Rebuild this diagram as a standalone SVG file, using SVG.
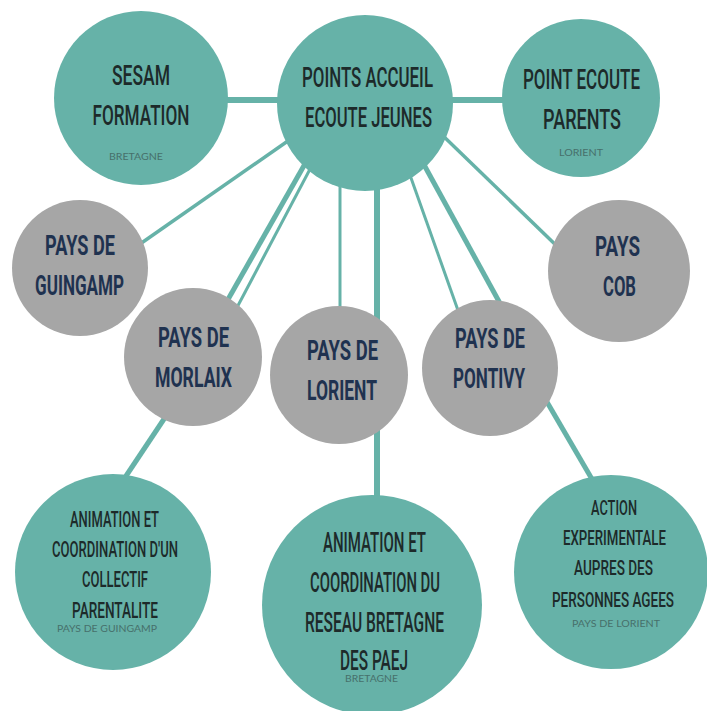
<svg xmlns="http://www.w3.org/2000/svg" width="707" height="711" viewBox="0 0 707 711">
<style>
.teal{fill:#66b2a8}
.gray{fill:#a6a6a6}
.ln{stroke:#66b2a8;fill:none;stroke-linecap:butt}
.t1{font-family:Roboto,"Liberation Sans",sans-serif;font-weight:500;fill:#1d2a2a;text-anchor:middle}
.t2{font-family:Roboto,"Liberation Sans",sans-serif;font-weight:700;fill:#1f3250;text-anchor:middle}
.sm{font-family:Lato,"Open Sans",sans-serif;font-size:9px;fill:#46706b;text-anchor:middle}
</style>
<rect width="707" height="711" fill="#ffffff"/>
<g id="connectors">
<line class="ln" x1="200" y1="100" x2="300" y2="100" stroke-width="6"/>
<line class="ln" x1="430" y1="100" x2="530" y2="100" stroke-width="6"/>
<line class="ln" x1="295" y1="136" x2="130" y2="251" stroke-width="3.5"/>
<line class="ln" x1="314" y1="148" x2="222" y2="310" stroke-width="5"/>
<line class="ln" x1="318" y1="154" x2="233" y2="315" stroke-width="3"/>
<line class="ln" x1="340" y1="170" x2="340" y2="330" stroke-width="3"/>
<line class="ln" x1="377" y1="170" x2="377" y2="520" stroke-width="6"/>
<line class="ln" x1="405" y1="161" x2="460" y2="316" stroke-width="3"/>
<line class="ln" x1="417" y1="152" x2="502" y2="307" stroke-width="5"/>
<line class="ln" x1="437" y1="130" x2="563" y2="252" stroke-width="3.5"/>
<line class="ln" x1="180" y1="395" x2="120" y2="485" stroke-width="5"/>
<line class="ln" x1="540" y1="390" x2="596" y2="486" stroke-width="5"/>
</g>
<g id="sesam">
<circle class="teal" cx="141" cy="98" r="87"/>
<text class="t1" x="141" y="85" font-size="28" textLength="58" lengthAdjust="spacingAndGlyphs">SESAM</text>
<text class="t1" x="141" y="125" font-size="28" textLength="97" lengthAdjust="spacingAndGlyphs">FORMATION</text>
<text class="sm" x="136" y="160" textLength="54" lengthAdjust="spacingAndGlyphs">BRETAGNE</text>
</g>
<g id="paej">
<circle class="teal" cx="365" cy="103" r="88"/>
<text class="t1" x="367.5" y="87" font-size="27" textLength="131" lengthAdjust="spacingAndGlyphs">POINTS ACCUEIL</text>
<text class="t1" x="368.5" y="127" font-size="27" textLength="127" lengthAdjust="spacingAndGlyphs">ECOUTE JEUNES</text>
</g>
<g id="parents">
<circle class="teal" cx="581" cy="98" r="79"/>
<text class="t1" x="581.5" y="89" font-size="27" textLength="117" lengthAdjust="spacingAndGlyphs">POINT ECOUTE</text>
<text class="t1" x="582" y="129" font-size="27" textLength="78" lengthAdjust="spacingAndGlyphs">PARENTS</text>
<text class="sm" x="581" y="156" textLength="44" lengthAdjust="spacingAndGlyphs">LORIENT</text>
</g>
<g id="guingamp">
<circle class="gray" cx="80" cy="268" r="68"/>
<text class="t2" x="80" y="255" font-size="28" textLength="70" lengthAdjust="spacingAndGlyphs">PAYS DE</text>
<text class="t2" x="79.5" y="295" font-size="28" textLength="89" lengthAdjust="spacingAndGlyphs">GUINGAMP</text>
</g>
<g id="morlaix">
<circle class="gray" cx="193" cy="357" r="69"/>
<text class="t2" x="193.5" y="347" font-size="28" textLength="71" lengthAdjust="spacingAndGlyphs">PAYS DE</text>
<text class="t2" x="193.5" y="387" font-size="28" textLength="77" lengthAdjust="spacingAndGlyphs">MORLAIX</text>
</g>
<g id="lorient">
<circle class="gray" cx="339" cy="375" r="69"/>
<text class="t2" x="342.5" y="360" font-size="28" textLength="71" lengthAdjust="spacingAndGlyphs">PAYS DE</text>
<text class="t2" x="342" y="400" font-size="28" textLength="70" lengthAdjust="spacingAndGlyphs">LORIENT</text>
</g>
<g id="pontivy">
<circle class="gray" cx="490" cy="368" r="68"/>
<text class="t2" x="490" y="348" font-size="28" textLength="70" lengthAdjust="spacingAndGlyphs">PAYS DE</text>
<text class="t2" x="489" y="388" font-size="28" textLength="72" lengthAdjust="spacingAndGlyphs">PONTIVY</text>
</g>
<g id="cob">
<circle class="gray" cx="619" cy="271" r="71"/>
<text class="t2" x="617.5" y="256" font-size="28" textLength="45" lengthAdjust="spacingAndGlyphs">PAYS</text>
<text class="t2" x="619.5" y="296" font-size="28" textLength="33" lengthAdjust="spacingAndGlyphs">COB</text>
</g>
<g id="collectif">
<circle class="teal" cx="113" cy="572" r="98"/>
<text class="t1" x="114.5" y="527" font-size="22" textLength="89" lengthAdjust="spacingAndGlyphs">ANIMATION ET</text>
<text class="t1" x="115" y="557" font-size="22" textLength="126" lengthAdjust="spacingAndGlyphs">COORDINATION D'UN</text>
<text class="t1" x="115" y="587" font-size="22" textLength="66" lengthAdjust="spacingAndGlyphs">COLLECTIF</text>
<text class="t1" x="115" y="618" font-size="22" textLength="86" lengthAdjust="spacingAndGlyphs">PARENTALITE</text>
<text class="sm" x="107" y="632" textLength="100" lengthAdjust="spacingAndGlyphs">PAYS DE GUINGAMP</text>
</g>
<g id="reseau">
<circle class="teal" cx="372" cy="605" r="110"/>
<text class="t1" x="374.5" y="552" font-size="28" textLength="103" lengthAdjust="spacingAndGlyphs">ANIMATION ET</text>
<text class="t1" x="375" y="592" font-size="28" textLength="130" lengthAdjust="spacingAndGlyphs">COORDINATION DU</text>
<text class="t1" x="374.5" y="632" font-size="28" textLength="139" lengthAdjust="spacingAndGlyphs">RESEAU BRETAGNE</text>
<text class="t1" x="374" y="670" font-size="28" textLength="68" lengthAdjust="spacingAndGlyphs">DES PAEJ</text>
<text class="sm" x="371.5" y="682" textLength="53" lengthAdjust="spacingAndGlyphs">BRETAGNE</text>
</g>
<g id="action">
<circle class="teal" cx="611" cy="572" r="97"/>
<text class="t1" x="614" y="515" font-size="21" textLength="46" lengthAdjust="spacingAndGlyphs">ACTION</text>
<text class="t1" x="614.5" y="545" font-size="21" textLength="103" lengthAdjust="spacingAndGlyphs">EXPERIMENTALE</text>
<text class="t1" x="613.5" y="575" font-size="21" textLength="79" lengthAdjust="spacingAndGlyphs">AUPRES DES</text>
<text class="t1" x="613" y="607" font-size="21" textLength="122" lengthAdjust="spacingAndGlyphs">PERSONNES AGEES</text>
<text class="sm" x="616" y="627" textLength="88" lengthAdjust="spacingAndGlyphs">PAYS DE LORIENT</text>
</g>
</svg>
